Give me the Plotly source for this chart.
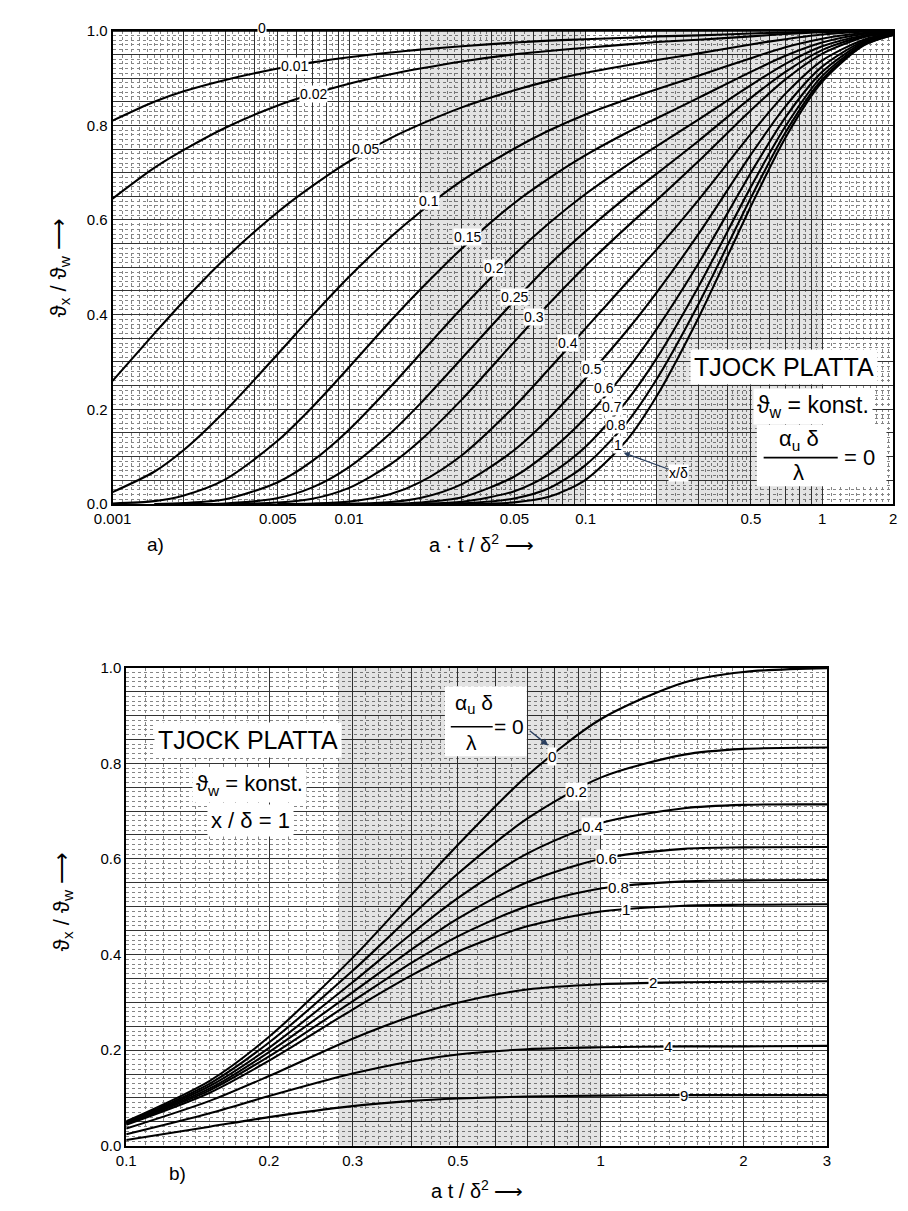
import numpy as np
import plotly.graph_objects as go

W, H = 908, 1211

# ---------------- a) thick plate, surface at constant temperature ----------------
fo_a = [0.001, 0.0015, 0.002, 0.003, 0.005, 0.007, 0.01, 0.015, 0.02, 0.03,
        0.05, 0.07, 0.1, 0.15, 0.2, 0.3, 0.5, 0.7, 1.0, 1.5, 2.0]

depth_a = ["0", "0.01", "0.02", "0.05", "0.1", "0.15", "0.2", "0.25",
           "0.3", "0.4", "0.5", "0.6", "0.7", "0.8", "1"]

theta_a_0 = [1.0] * 21
theta_a_001 = [0.81, 0.85, 0.872, 0.896, 0.92, 0.933, 0.944, 0.954, 0.96, 0.967,
               0.975, 0.979, 0.982, 0.985, 0.988, 0.99, 0.994, 0.996, 0.998, 1.0, 1.0]
theta_a_002 = [0.645, 0.71, 0.748, 0.795, 0.842, 0.866, 0.888, 0.908, 0.92, 0.935,
               0.95, 0.957, 0.964, 0.971, 0.976, 0.981, 0.988, 0.993, 0.997, 0.999, 1.0]
theta_a_005 = [0.26, 0.36, 0.429, 0.519, 0.617, 0.672, 0.724, 0.773, 0.802, 0.838,
               0.874, 0.894, 0.911, 0.927, 0.938, 0.952, 0.971, 0.982, 0.992, 0.998, 0.999]
theta_a_01 = [0.025, 0.068, 0.114, 0.197, 0.317, 0.398, 0.48, 0.564, 0.617, 0.683,
              0.751, 0.789, 0.823, 0.855, 0.876, 0.905, 0.942, 0.965, 0.983, 0.995, 0.999]
theta_a_015 = [0.001, 0.006, 0.018, 0.052, 0.134, 0.205, 0.289, 0.387, 0.453, 0.54,
               0.636, 0.688, 0.737, 0.785, 0.815, 0.858, 0.913, 0.947, 0.975, 0.993, 0.998]
theta_a_02 = [0.0, 0.0, 0.002, 0.01, 0.046, 0.091, 0.157, 0.248, 0.317, 0.414,
              0.527, 0.593, 0.655, 0.716, 0.756, 0.812, 0.885, 0.93, 0.967, 0.99, 0.997]
theta_a_025 = [0.0, 0.0, 0.0, 0.001, 0.0125, 0.035, 0.078, 0.15, 0.212, 0.308,
               0.429, 0.505, 0.576, 0.65, 0.698, 0.767, 0.858, 0.913, 0.959, 0.988, 0.996]
theta_a_03 = [0.0, 0.0, 0.0, 0.0, 0.003, 0.011, 0.034, 0.084, 0.134, 0.221,
              0.343, 0.423, 0.503, 0.586, 0.642, 0.724, 0.832, 0.897, 0.951, 0.986, 0.996]
theta_a_04 = [0.0, 0.0, 0.0, 0.0, 0.0, 0.001, 0.005, 0.021, 0.046, 0.103,
              0.206, 0.285, 0.371, 0.469, 0.538, 0.642, 0.782, 0.867, 0.937, 0.981, 0.995]
theta_a_05 = [0.0, 0.0, 0.0, 0.0, 0.0, 0.0, 0.0004, 0.004, 0.0125, 0.042,
              0.114, 0.181, 0.265, 0.367, 0.447, 0.57, 0.738, 0.84, 0.924, 0.978, 0.993]
theta_a_06 = [0.0, 0.0, 0.0, 0.0, 0.0, 0.0, 0.0, 0.0005, 0.003, 0.014,
              0.058, 0.11, 0.182, 0.284, 0.37, 0.508, 0.70, 0.817, 0.913, 0.975, 0.993]
theta_a_07 = [0.0, 0.0, 0.0, 0.0, 0.0, 0.0, 0.0, 0.0, 0.0005, 0.0044,
              0.027, 0.062, 0.121, 0.219, 0.308, 0.459, 0.670, 0.798, 0.904, 0.972, 0.992]
theta_a_08 = [0.0, 0.0, 0.0, 0.0, 0.0, 0.0, 0.0, 0.0, 0.0, 0.0012,
              0.0115, 0.033, 0.082, 0.173, 0.264, 0.422, 0.647, 0.785, 0.897, 0.970, 0.991]
theta_a_1 = [0.0, 0.0, 0.0, 0.0, 0.0, 0.0, 0.0, 0.0, 0.0, 0.0,
             0.0034, 0.015, 0.051, 0.136, 0.228, 0.393, 0.629, 0.774, 0.892, 0.969, 0.991]

curves_a = [theta_a_0, theta_a_001, theta_a_002, theta_a_005, theta_a_01, theta_a_015,
            theta_a_02, theta_a_025, theta_a_03, theta_a_04, theta_a_05, theta_a_06,
            theta_a_07, theta_a_08, theta_a_1]

# depth labels: position along a·t/δ² and height on the ϑx/ϑw scale
label_x_a = [0.0043, 0.00585, 0.00706, 0.0117, 0.0217, 0.0316, 0.0409, 0.0499,
             0.0604, 0.0841, 0.106, 0.1195, 0.129, 0.135, 0.137]
label_y_a = [1.0, 0.925, 0.866, 0.749, 0.641, 0.564, 0.499, 0.437,
             0.394, 0.34, 0.285, 0.244, 0.204, 0.166, 0.124]

xticks_a = [0.001, 0.005, 0.01, 0.05, 0.1, 0.5, 1, 2]
xtick_text_a = ["0.001", "0.005", "0.01", "0.05", "0.1", "0.5", "1", "2"]

# ---------------- b) plate at x/δ = 1 with heat loss α_u δ/λ ----------------
fo_b = [0.1, 0.15, 0.2, 0.3, 0.4, 0.5, 0.7, 1.0, 1.5, 2.0, 3.0]

biot_b = ["0", "0.2", "0.4", "0.6", "0.8", "1", "2", "4", "9"]

theta_b_0 = [0.051, 0.136, 0.228, 0.393, 0.526, 0.629, 0.774, 0.892, 0.969, 0.991, 0.999]
theta_b_02 = [0.049, 0.130, 0.216, 0.366, 0.482, 0.569, 0.684, 0.770, 0.818, 0.830, 0.833]
theta_b_04 = [0.048, 0.125, 0.205, 0.342, 0.444, 0.518, 0.611, 0.675, 0.706, 0.713, 0.714]
theta_b_06 = [0.047, 0.120, 0.196, 0.321, 0.411, 0.475, 0.551, 0.600, 0.621, 0.624, 0.625]
theta_b_08 = [0.046, 0.116, 0.187, 0.302, 0.383, 0.438, 0.501, 0.538, 0.553, 0.555, 0.556]
theta_b_1 = [0.044, 0.111, 0.178, 0.285, 0.357, 0.406, 0.459, 0.490, 0.502, 0.504, 0.505]
theta_b_2 = [0.036, 0.094, 0.146, 0.224, 0.271, 0.299, 0.327, 0.338, 0.342, 0.343, 0.344]
theta_b_4 = [0.024, 0.068, 0.104, 0.151, 0.177, 0.191, 0.202, 0.206, 0.208, 0.208, 0.209]
theta_b_9 = [0.012, 0.040, 0.060, 0.083, 0.094, 0.099, 0.103, 0.105, 0.106, 0.106, 0.106]

curves_b = [theta_b_0, theta_b_02, theta_b_04, theta_b_06, theta_b_08,
            theta_b_1, theta_b_2, theta_b_4, theta_b_9]

label_x_b = [0.79, 0.889, 0.963, 1.03, 1.09, 1.13, 1.29, 1.39, 1.50]

xticks_b = [0.1, 0.2, 0.3, 0.5, 1, 2, 3]
xtick_text_b = ["0.1", "0.2", "0.3", "0.5", "1", "2", "3"]

yticks = [0.0, 0.2, 0.4, 0.6, 0.8, 1.0]
ytick_text = ["0.0", "0.2", "0.4", "0.6", "0.8", "1.0"]

# ---------------- helpers ----------------
FONT = "Liberation Sans, Arial, sans-serif"


def paper_x(px):
    return px / W


def paper_y(py):
    return 1 - py / H


def log_grid(lo, hi):
    """Major (1..9 per decade) and minor subdivisions of log paper."""
    majors, minors = [], []
    for e in range(int(np.floor(np.log10(lo))), int(np.ceil(np.log10(hi))) + 1):
        base = 10.0 ** e
        for k in range(1, 10):
            majors.append(k * base)
        for m in np.arange(1.1, 2.0, 0.1):
            minors.append(m * base)
        for m in np.arange(2.2, 5.0, 0.2):
            if abs(m - round(m)) > 1e-6:
                minors.append(m * base)
        for m in np.arange(5.5, 10.0, 0.5):
            if abs(m - round(m)) > 1e-6:
                minors.append(m * base)
    eps = 1e-12
    majors = [v for v in majors if lo - eps <= v <= hi + eps]
    minors = [v for v in minors if lo - eps <= v <= hi + eps]
    return majors, minors


def x_axis(lo, hi, ticks, texts, domain, anchor):
    majors, minors = log_grid(lo, hi)
    labels = dict(zip([round(t, 6) for t in ticks], texts))
    ticktext = [labels.get(round(v, 6), "") for v in majors]
    return dict(
        type="log", range=[np.log10(lo), np.log10(hi)], domain=domain, anchor=anchor,
        tickvals=majors, ticktext=ticktext, ticks="", showgrid=True,
        gridcolor="#333333", gridwidth=1.0,
        minor=dict(tickvals=minors, showgrid=True, gridcolor="#858585",
                   gridwidth=0.6, griddash="dot", ticks=""),
        showline=True, mirror=True, linecolor="black", linewidth=1.8,
        zeroline=False, tickfont=dict(family=FONT, size=15, color="black"),
    )


def y_axis(domain, anchor):
    majors = [round(v, 2) for v in np.arange(0, 1.0001, 0.05)]
    minors = [round(v, 2) for v in np.arange(0, 1.0001, 0.01)]
    labels = dict(zip(yticks, ytick_text))
    ticktext = [labels.get(v, "") for v in majors]
    return dict(
        range=[0, 1], domain=domain, anchor=anchor,
        tickvals=majors, ticktext=ticktext, ticks="", showgrid=True,
        gridcolor="#333333", gridwidth=1.0,
        minor=dict(tickvals=minors, showgrid=True, gridcolor="#858585",
                   gridwidth=0.6, griddash="dot", ticks=""),
        showline=True, mirror=True, linecolor="black", linewidth=1.8,
        zeroline=False, tickfont=dict(family=FONT, size=15, color="black"),
    )


def trim_leading_zeros(xs, ys):
    i = 0
    while i + 1 < len(ys) and ys[i + 1] <= 0.0:
        i += 1
    return xs[i:], ys[i:]


def on_curve(xs, ys, xq):
    return float(np.interp(np.log10(xq), np.log10(xs), ys))


fig = go.Figure()

# denser printed bands of the graph paper
for (x0, x1, xa, ya) in [(0.02, 0.1, "x", "y"), (0.2, 1.0, "x", "y"),
                         (0.28, 1.0, "x2", "y2")]:
    fig.add_trace(go.Scatter(
        x=[x0, x1, x1, x0, x0], y=[0, 0, 1, 1, 0], fill="toself",
        fillcolor="rgba(0,0,0,0.11)", line=dict(width=0), mode="lines",
        hoverinfo="skip", showlegend=False, xaxis=xa, yaxis=ya))

line_style = dict(color="black", width=2.1, shape="spline", smoothing=0.8)

for ys in curves_a:
    xs, yv = trim_leading_zeros(fo_a, ys)
    fig.add_trace(go.Scatter(x=xs, y=yv, mode="lines", line=line_style,
                             hoverinfo="skip", showlegend=False, xaxis="x", yaxis="y"))

for ys in curves_b:
    fig.add_trace(go.Scatter(x=fo_b, y=ys, mode="lines", line=line_style,
                             hoverinfo="skip", showlegend=False, xaxis="x2", yaxis="y2"))

annotations = []

# curve labels, chart a)
for name, xl, yl in zip(depth_a, label_x_a, label_y_a):
    ann = dict(x=np.log10(xl), y=yl, xref="x", yref="y", text=name, showarrow=False,
               font=dict(family=FONT, size=14, color="black"), bgcolor="white",
               borderpad=0)
    if name == "0":
        ann.update(yshift=3)
    annotations.append(ann)

annotations.append(dict(
    x=np.log10(0.145), y=0.108, xref="x", yref="y",
    text="x/δ", showarrow=True, arrowhead=2, arrowsize=1, arrowwidth=1.2,
    ax=55, ay=20, font=dict(family=FONT, size=14, color="black"),
    bgcolor="white", borderpad=0))

# curve labels, chart b)
for name, ys, xl in zip(biot_b, curves_b, label_x_b):
    annotations.append(dict(
        x=np.log10(xl), y=on_curve(fo_b, ys, xl), xref="x2", yref="y2", text=name,
        showarrow=False, font=dict(family=FONT, size=15, color="black"),
        bgcolor="white", borderpad=0))


def text_at(px, py, text, size, bg=None, angle=0):
    d = dict(x=paper_x(px), y=paper_y(py), xref="paper", yref="paper", text=text,
             showarrow=False, textangle=angle,
             font=dict(family=FONT, size=size, color="black"),
             xanchor="center", yanchor="middle")
    if bg:
        d.update(bgcolor=bg, borderpad=3)
    return d


# chart a) texts
annotations += [
    text_at(785, 363, "TJOCK PLATTA", 25, "white"),
    text_at(815, 403, "ϑ<sub>w</sub> = konst.", 23, "white"),
    text_at(800, 437, "α<sub>u</sub> δ", 22),
    text_at(800, 470, "λ", 22),
    text_at(862, 455, "= 0", 22),
    text_at(475, 542, "a · t / δ<sup>2</sup> ⟶", 20),
    text_at(140, 543, "a)", 19),
    text_at(42, 262, "ϑ<sub>x</sub> / ϑ<sub>w</sub> ⟶", 22, angle=-90),
]

# chart b) texts
annotations += [
    text_at(235, 741, "TJOCK PLATTA", 25, "white"),
    text_at(236, 787, "ϑ<sub>w</sub> = konst.", 22, "white"),
    text_at(238, 823, "x / δ = 1", 22, "white"),
    text_at(467, 705, "α<sub>u</sub> δ", 21),
    text_at(464, 744, "λ", 21),
    text_at(503, 728, "= 0", 21),
    text_at(470, 1197, "a t / δ<sup>2</sup> ⟶", 20),
    text_at(163, 1181, "b)", 19),
    text_at(45, 905, "ϑ<sub>x</sub> / ϑ<sub>w</sub> ⟶", 22, angle=-90),
]

annotations.append(dict(
    x=paper_x(543), y=paper_y(747), xref="paper", yref="paper", text="",
    showarrow=True, arrowhead=2, arrowsize=1, arrowwidth=1.4, ax=-20, ay=-16))

shapes = [
    # white panels behind the fractions
    dict(type="rect", xref="paper", yref="paper", x0=paper_x(757), x1=paper_x(890),
         y0=paper_y(484), y1=paper_y(422), fillcolor="white", line=dict(width=0),
         layer="above"),
    dict(type="line", xref="paper", yref="paper", x0=paper_x(764), x1=paper_x(840),
         y0=paper_y(455), y1=paper_y(455), line=dict(color="black", width=1.6),
         layer="above"),
    dict(type="rect", xref="paper", yref="paper", x0=paper_x(437), x1=paper_x(521),
         y0=paper_y(758), y1=paper_y(687), fillcolor="white", line=dict(width=0),
         layer="above"),
    dict(type="line", xref="paper", yref="paper", x0=paper_x(443), x1=paper_x(486),
         y0=paper_y(728), y1=paper_y(728), line=dict(color="black", width=1.5),
         layer="above"),
]

fig.update_layout(
    width=W, height=H, margin=dict(l=0, r=0, t=0, b=0),
    paper_bgcolor="white", plot_bgcolor="white", showlegend=False,
    xaxis=x_axis(0.001, 2, xticks_a, xtick_text_a, [96 / W, 897 / W], "y"),
    yaxis=y_axis([1 - 502 / H, 1 - 22 / H], "x"),
    xaxis2=x_axis(0.1, 3, xticks_b, xtick_text_b, [110 / W, 829 / W], "y2"),
    yaxis2=y_axis([1 - 1153 / H, 1 - 668 / H], "x2"),
    annotations=annotations, shapes=shapes,
)

fig.write_html("out.html")
